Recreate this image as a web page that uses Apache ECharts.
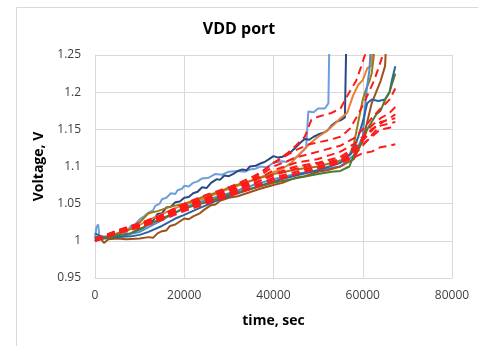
<!DOCTYPE html>
<html>
<head>
<meta charset="utf-8">
<script src="https://cdn.jsdelivr.net/npm/echarts@6/dist/echarts.min.js"></script>
<style>
  html, body { margin: 0; padding: 0; background: #fff; }
  #chart { width: 478px; height: 346px; }
</style>
</head>
<body>
<div id="chart"></div>
<script>
// axis ticks
const xTicks = [0, 20000, 40000, 60000, 80000];
const yTicks = [0.95, 1, 1.05, 1.1, 1.15, 1.2, 1.25];

// solid measured curves: [time sec, voltage V]
const lightBlue = [[0,1.003],[300,1.018],[700,1.022],[1000,1.006],[2500,1.005],[4000,1.008],[5000,1.006],[6000,1.012],[7000,1.011],[8000,1.02],[9000,1.022],[10000,1.029],[11000,1.033],[12000,1.038],[13000,1.041],[13500,1.047],[14500,1.05],[15000,1.056],[16000,1.058],[17000,1.064],[18000,1.063],[18500,1.068],[19500,1.07],[20000,1.074],[21000,1.073],[22000,1.078],[23000,1.08],[24000,1.084],[25500,1.085],[27000,1.09],[28500,1.089],[30000,1.093],[32000,1.094],[33500,1.093],[34700,1.096],[36000,1.097],[37000,1.1],[38500,1.099],[40000,1.105],[42000,1.107],[43000,1.106],[44000,1.11],[45000,1.112],[46000,1.117],[47300,1.125],[47800,1.174],[49000,1.173],[50000,1.178],[51500,1.178],[52300,1.185],[52600,1.3]];
const navy = [[0,1.0],[2000,1.003],[4000,1.004],[6000,1.006],[8000,1.01],[10000,1.016],[11000,1.018],[12000,1.025],[13000,1.027],[14000,1.036],[15000,1.037],[16000,1.045],[17000,1.046],[18000,1.052],[19000,1.053],[20000,1.058],[21000,1.059],[22000,1.064],[23000,1.066],[24000,1.072],[25000,1.071],[26000,1.078],[27300,1.083],[28000,1.082],[29000,1.088],[30000,1.087],[31000,1.09],[32000,1.094],[33000,1.096],[34000,1.095],[34700,1.1],[36000,1.101],[37000,1.104],[38000,1.106],[39000,1.11],[40000,1.114],[41000,1.112],[42000,1.113],[43000,1.117],[44000,1.12],[45000,1.126],[46000,1.132],[47000,1.137],[48000,1.136],[49000,1.14],[50000,1.143],[51000,1.145],[52000,1.148],[53000,1.155],[54000,1.16],[55000,1.162],[56000,1.166],[56400,1.3]];
const orange = [[0,1.0],[3000,1.006],[6000,1.012],[9000,1.018],[12000,1.028],[15000,1.036],[18000,1.044],[21000,1.05],[24000,1.056],[27000,1.063],[30000,1.07],[33000,1.076],[36000,1.083],[39000,1.09],[42000,1.097],[44000,1.105],[46000,1.118],[48000,1.13],[50000,1.14],[52000,1.148],[53500,1.156],[55000,1.165],[56500,1.172],[57800,1.195],[59000,1.21],[60000,1.216],[61000,1.232],[62000,1.236],[62400,1.3]];
const olive = [[0,1.002],[4000,1.008],[8000,1.016],[10000,1.025],[12000,1.037],[14000,1.04],[17000,1.046],[20000,1.05],[22000,1.054],[25000,1.061],[28000,1.066],[30000,1.072],[35000,1.081],[40000,1.09],[45000,1.096],[50000,1.1],[55000,1.108],[57000,1.115],[58000,1.13],[59000,1.16],[60000,1.19],[60800,1.205],[61500,1.215],[62000,1.225],[62500,1.25],[62800,1.3]];
const blue = [[0,1.005],[5000,1.006],[10000,1.012],[15000,1.028],[20000,1.045],[25000,1.055],[30000,1.064],[35000,1.074],[40000,1.083],[45000,1.09],[50000,1.095],[55000,1.1],[58000,1.115],[60000,1.14],[60800,1.2],[61500,1.23],[62200,1.3]];
const brown = [[0,1.0],[1000,1.006],[2000,0.997],[3000,1.002],[5000,1.003],[7000,1.002],[10000,1.003],[12000,1.005],[13000,1.004],[14000,1.01],[15000,1.013],[16000,1.014],[16800,1.02],[18000,1.022],[19000,1.026],[20000,1.03],[21000,1.029],[22000,1.033],[23500,1.037],[24500,1.042],[26000,1.048],[27000,1.049],[28000,1.054],[30000,1.058],[32000,1.06],[35000,1.066],[37000,1.07],[40000,1.075],[42000,1.078],[45000,1.085],[47000,1.087],[50000,1.093],[52000,1.095],[55000,1.1],[58000,1.11],[60000,1.135],[61000,1.16],[62000,1.185],[63000,1.2],[64000,1.215],[65000,1.235],[65500,1.3]];
const steel = [[0,1.01],[2000,1.004],[5000,1.005],[8000,1.006],[10000,1.008],[12000,1.012],[15000,1.02],[18000,1.03],[20000,1.035],[23000,1.043],[25000,1.048],[28000,1.056],[30000,1.06],[35000,1.07],[40000,1.08],[45000,1.088],[50000,1.095],[55000,1.105],[57500,1.118],[59000,1.14],[60000,1.16],[61000,1.185],[62000,1.19],[63500,1.188],[65000,1.19],[65500,1.195],[66000,1.2],[66500,1.215],[67300,1.235]];
const green = [[0,1.005],[3000,1.004],[5000,1.008],[8000,1.01],[10000,1.015],[12000,1.022],[15000,1.03],[18000,1.038],[20000,1.043],[23000,1.049],[25000,1.052],[30000,1.062],[35000,1.07],[40000,1.078],[45000,1.084],[50000,1.09],[53000,1.093],[55000,1.094],[57000,1.1],[58000,1.115],[60000,1.135],[61000,1.15],[62000,1.16],[63000,1.17],[64000,1.175],[65000,1.19],[66000,1.2],[66500,1.21],[67300,1.225]];

// dashed red curves
const red1 = [[0,1.0],[5000,1.012],[10000,1.022],[15000,1.035],[20000,1.05],[25000,1.062],[30000,1.072],[35000,1.085],[38000,1.095],[40000,1.105],[42000,1.112],[45000,1.128],[47000,1.14],[48500,1.163],[50000,1.167],[53000,1.172],[55000,1.178],[57000,1.2],[58500,1.215],[59500,1.232],[60500,1.25],[61000,1.26]];
const red2 = [[0,1.002],[5000,1.014],[10000,1.024],[15000,1.034],[20000,1.048],[25000,1.058],[30000,1.07],[35000,1.082],[40000,1.105],[45000,1.122],[48000,1.13],[52000,1.135],[55000,1.14],[57000,1.15],[59000,1.17],[61000,1.195],[62500,1.215],[63500,1.232],[64500,1.25],[65000,1.26]];
const red3 = [[0,1.0],[5000,1.01],[10000,1.02],[15000,1.033],[20000,1.046],[25000,1.057],[30000,1.068],[35000,1.08],[40000,1.1],[45000,1.112],[50000,1.12],[55000,1.128],[58000,1.138],[60000,1.15],[62000,1.165],[64000,1.178],[66000,1.19],[67300,1.205]];
const red4 = [[0,1.003],[5000,1.013],[10000,1.021],[15000,1.031],[20000,1.045],[25000,1.055],[30000,1.066],[35000,1.078],[40000,1.095],[45000,1.105],[50000,1.11],[55000,1.12],[58000,1.13],[60000,1.14],[62000,1.155],[64000,1.165],[66000,1.172],[67300,1.18]];
const red5 = [[0,1.0],[5000,1.011],[10000,1.019],[15000,1.03],[20000,1.043],[25000,1.054],[30000,1.064],[35000,1.075],[40000,1.09],[45000,1.1],[50000,1.105],[55000,1.113],[58000,1.125],[60000,1.135],[62000,1.148],[64000,1.16],[66000,1.163],[67300,1.165]];
const red6 = [[0,1.001],[5000,1.012],[10000,1.02],[15000,1.032],[20000,1.044],[25000,1.053],[30000,1.062],[35000,1.072],[40000,1.085],[45000,1.093],[50000,1.1],[55000,1.108],[58000,1.12],[60000,1.13],[62000,1.14],[64000,1.15],[66000,1.152],[67300,1.155]];
const red7 = [[0,1.0],[5000,1.01],[10000,1.018],[15000,1.028],[20000,1.04],[25000,1.05],[30000,1.06],[35000,1.07],[40000,1.08],[45000,1.09],[50000,1.097],[55000,1.105],[58000,1.112],[60000,1.118],[62000,1.12],[64000,1.126],[66000,1.128],[67300,1.13]];
const red8 = [[0,1.002],[5000,1.013],[10000,1.023],[15000,1.035],[20000,1.047],[25000,1.056],[30000,1.065],[35000,1.076],[40000,1.088],[45000,1.097],[50000,1.103],[55000,1.11],[58000,1.122],[60000,1.138],[62000,1.15],[64000,1.158],[66000,1.165],[67300,1.17]];
const red9 = [[0,1.0],[5000,1.011],[10000,1.021],[15000,1.031],[20000,1.042],[25000,1.052],[30000,1.061],[35000,1.071],[40000,1.083],[45000,1.09],[50000,1.098],[55000,1.106],[58000,1.115],[60000,1.128],[62000,1.142],[64000,1.155],[66000,1.158],[67300,1.16]];

const solidSeries = [
  [lightBlue, '#6e9fdc'], [navy, '#2b4884'], [orange, '#ed7d31'], [olive, '#9c7c10'],
  [blue, '#4a8fd0'], [brown, '#a0501a'], [steel, '#2a64a0'], [green, '#4f7a30']
];
const redSeries = [red1, red2, red3, red4, red5, red6, red7, red8, red9];

const chart = echarts.init(document.getElementById('chart'), null, { renderer: 'canvas' });

const series = [];
redSeries.forEach(d => {
  series.push({
    type: 'line', data: d, symbol: 'none', z: 3,
    lineStyle: { color: '#ff1a1a', width: 2, type: [8, 5] }
  });
});
solidSeries.forEach(s => {
  series.push({
    type: 'line', data: s[0], symbol: 'none', z: 2,
    lineStyle: { color: s[1], width: 2 }
  });
});

const font = '"Open Sans", "Liberation Sans", sans-serif';

chart.setOption({
  animation: false,
  backgroundColor: '#fff',
  textStyle: { fontFamily: font },
  graphic: [{
    type: 'rect', left: 14, top: 5, z: -10,
    shape: { width: 480, height: 345 },
    style: { fill: 'none', stroke: '#d9d9d9', lineWidth: 1 }
  }],
  title: {
    text: 'VDD port', left: 'center', top: 16,
    textStyle: { fontSize: 16, fontWeight: 'bold', color: '#000', fontFamily: font }
  },
  grid: { left: 95, right: 26, top: 55, bottom: 68 },
  xAxis: {
    type: 'value', min: 0, max: 80000, interval: 20000,
    name: 'time, sec', nameLocation: 'middle', nameGap: 36,
    nameTextStyle: { fontSize: 14, fontWeight: 'bold', color: '#000' },
    axisLine: { show: true, lineStyle: { color: '#d9d9d9' } },
    axisTick: { show: false },
    axisLabel: {
      color: '#404040', fontSize: 12, margin: 12,
      formatter: v => (xTicks.indexOf(v) >= 0 ? String(v) : '')
    },
    splitLine: { show: true, lineStyle: { color: '#d9d9d9' } }
  },
  yAxis: {
    type: 'value', min: 0.95, max: 1.25, interval: 0.05,
    name: 'Voltage, V', nameLocation: 'middle', nameGap: 48, nameRotate: 90,
    nameTextStyle: { fontSize: 14, fontWeight: 'bold', color: '#000' },
    axisLine: { show: true, lineStyle: { color: '#d9d9d9' } },
    axisTick: { show: false },
    axisLabel: {
      color: '#404040', fontSize: 12, margin: 14,
      formatter: v => {
        const r = Math.round(v * 100) / 100;
        return yTicks.indexOf(r) >= 0 ? String(r) : '';
      }
    },
    splitLine: { show: true, lineStyle: { color: '#d9d9d9' } }
  },
  series: series
});
</script>
</body>
</html>
